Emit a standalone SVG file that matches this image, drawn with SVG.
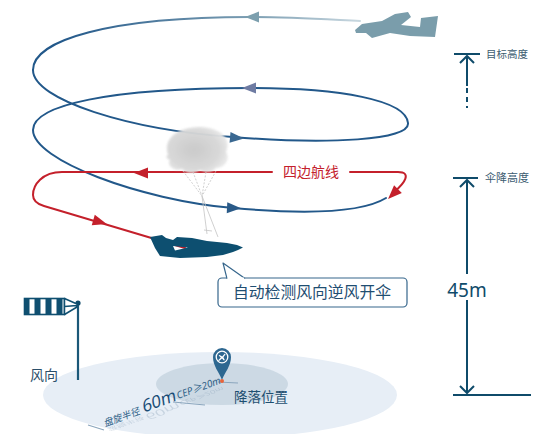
<svg xmlns="http://www.w3.org/2000/svg" width="547" height="434" viewBox="0 0 547 434">
  <defs>
    <style>
      .cn { font-family: "Noto Sans CJK SC", "Noto Sans", sans-serif; }
      .lat { font-family: "Noto Sans", "Noto Sans CJK SC", sans-serif; }
      .track { fill: none; stroke: #22588a; stroke-width: 2; stroke-linecap: round; }
      .redtrack { fill: none; stroke: #c4202b; stroke-width: 2; stroke-linecap: round; stroke-linejoin: round; }
      .dim { fill: none; stroke: #0f4b6a; stroke-width: 2; }
      .rig { fill: none; stroke: #c4c4c4; stroke-width: 0.8; }
      .uline { fill: none; stroke: #8ba6bd; stroke-width: 1.1; }
    </style>
    <linearGradient id="fadeTop" gradientUnits="userSpaceOnUse" x1="360" y1="0" x2="60" y2="0">
      <stop offset="0" stop-color="#c9d8e0"/>
      <stop offset="0.35" stop-color="#7d9fb3"/>
      <stop offset="1" stop-color="#22588a"/>
    </linearGradient>
    <radialGradient id="canopy" cx="0.45" cy="0.5" r="0.6">
      <stop offset="0" stop-color="#c9c9c9"/>
      <stop offset="0.7" stop-color="#d8d8d8"/>
      <stop offset="1" stop-color="#eaeaea"/>
    </radialGradient>
    <filter id="soft" x="-20%" y="-20%" width="140%" height="140%">
      <feGaussianBlur stdDeviation="0.9"/>
    </filter>
    <path id="ah" d="M7,0 L-7,-5.5 L-7,5.5 Z"/>
  </defs>

  <!-- ground disc and landing zone -->
  <g id="ground">
    <ellipse cx="220" cy="395" rx="177" ry="43" fill="#e7eef6"/>
    <ellipse cx="222" cy="384" rx="66" ry="21" fill="#ccd9e4"/>
  </g>

  <!-- circling radius label, drawn along a slanted baseline -->
  <g id="radius-label">
    <path class="uline" d="M88,425 L104,430 M173,402 L205,405 M218,382 L238,383"/>
    <g transform="translate(104,427) rotate(-20)">
      <g transform="scale(1,-0.55) translate(0,-4)" opacity="0.3" fill="#7f98b0">
        <text class="cn" x="2" y="0" font-size="9.5" transform="skewX(-12)">盘旋半径</text>
        <text class="lat" x="42" y="0" font-size="17" transform="skewX(-12)">60m</text>
        <text class="lat" x="79" y="0" font-size="10" font-style="italic">CEP≥20m</text>
      </g>
      <text class="cn" x="1" y="0" font-size="9.5" fill="#2e5f86" transform="skewX(-12)">盘旋半径</text>
      <text class="lat" x="42" y="0" font-size="17" fill="#1a4d77" transform="skewX(-12)">60m</text>
      <text class="lat" x="79" y="-1" font-size="10" font-style="italic" fill="#2e5f86">CEP≥20m</text>
    </g>
  </g>

  <!-- landing position marker -->
  <g id="landing-pin">
    <path d="M222,380 C219,372 213,366 213,357 A9,9 0 1 1 231,357 C231,366 225,372 222,380 Z" fill="#2d6790"/>
    <circle cx="222" cy="357" r="5.8" fill="none" stroke="#ffffff" stroke-width="1.3"/>
    <!-- small aircraft glyph inside the pin -->
    <path d="M218,360.5 L220.8,357.6 L218.6,355.6 L219.6,355 L222.2,356.4 L224.4,354 C225,353.4 225.8,353.8 225.4,354.6 L223.4,357.2 L224.8,360 L223.9,360.6 L222,358.6 L219,361 Z" fill="#ffffff"/>
    <circle cx="222" cy="381" r="2" fill="#e8643a"/>
    <text class="cn" x="234" y="402" font-size="13.5" fill="#1d4e70">降落位置</text>
  </g>

  <!-- windsock -->
  <g id="windsock">
    <line x1="78" y1="303" x2="78" y2="380" stroke="#1b5878" stroke-width="2.2"/>
    <circle cx="78" cy="303" r="2.6" fill="#0f4b6a"/>
    <rect x="24.5" y="298.5" width="40" height="16" fill="#ffffff" stroke="#0f4f70" stroke-width="1.6"/>
    <rect x="24.5" y="298.5" width="5" height="16" fill="#0f4f70"/>
    <rect x="34.5" y="298.5" width="6" height="16" fill="#0f4f70"/>
    <rect x="45.5" y="298.5" width="6" height="16" fill="#0f4f70"/>
    <rect x="56.5" y="298.5" width="6" height="16" fill="#0f4f70"/>
    <path d="M64.5,298.5 L77,304 L77,307 L64.5,314.5 Z M64.5,306.5 L77,305.5" fill="#ffffff" stroke="#0f4f70" stroke-width="1.5" stroke-linejoin="round"/>
    <text class="cn" x="30" y="380" font-size="14" fill="#2b4f6a">风向</text>
  </g>

  <!-- flight track connectors -->
  <g id="connectors">
    <path d="M360,21 C320,19 290,17 250,17 C110,17 33,40 33,70" stroke="url(#fadeTop)" fill="none" stroke-width="2" stroke-linecap="round"/>
    <path class="track" d="M33,70 C33,100 130,130 233,137 C330,145 410,140 408,123 C406,100 340,88 250,88 C110,88 33,105 33,130 C33,160 140,200 233,208 C300,214 360,214 386,198"/>
    <path class="redtrack" d="M394,192 C405,183 412,172 398,172 L350,172"/>
    <path class="redtrack" d="M272,172 L62,172 C42,172 33,185 33,195 C33,201 37,204 44,206 L185,248"/>
    <use href="#ah" transform="translate(252,17) rotate(180)" fill="#7c9fae"/>
    <use href="#ah" transform="translate(237,138) rotate(5)" fill="#3a6891"/>
    <use href="#ah" transform="translate(249,88) rotate(180)" fill="#6e7ba2"/>
    <use href="#ah" transform="translate(234,208) rotate(3)" fill="#2a5a88"/>
    <use href="#ah" transform="translate(141,173) rotate(180)" fill="#c4202b"/>
    <use href="#ah" transform="translate(100,222) rotate(16)" fill="#c4202b"/>
    <use href="#ah" transform="translate(393,194) rotate(135)" fill="#c4202b"/>
  </g>

  <!-- circuit label on the red track -->
  <g id="circuit-label">
    <text class="cn" x="311" y="177" font-size="14" fill="#c4202b" text-anchor="middle">四边航线</text>
  </g>

  <!-- parachute canopy and rigging -->
  <g id="parachute">
    <path class="rig" d="M183,171 L202,196 M193,172 L202,196 M206,172 L202,196 M216,171 L202,196" stroke-dasharray="2,1.5"/>
    <path class="rig" d="M202,196 L207,234 M202,196 L218,237 M204,230 L212,231" stroke="#bdbdbd" stroke-width="1"/>
    <path d="M168,155 C163,140 175,128 198,127 C220,127 232,138 226,152 C231,160 224,168 216,168 C213,173 205,173 200,170 C195,174 186,174 182,169 C175,172 166,166 170,160 C165,158 166,156 168,155 Z" fill="url(#canopy)" filter="url(#soft)" opacity="0.96"/>
  </g>

  <!-- aircraft at target altitude -->
  <g id="plane-top">
    <path d="M355,30 L362,24 L382,21 L395,14 L408,12 L411,17 L401,25 L420,27 L421,18 L438,16 L435,37 L410,36 L390,33 L372,38 L366,33 L356,33 Z" fill="#7a9dab"/>
  </g>

  <!-- aircraft releasing the parachute -->
  <g id="plane-low">
    <path d="M150,237 L162,235 L166,238 L173,240 L177,237 L192,238 L207,241 L227,243 L237,245 L243,247.5 L238,250 L233,252 L223,255 L207,257 L180,258 L160,256 L155,248 Z M173,246 L188,247.5 L175,250.5 Z" fill="#0d4f70" fill-rule="evenodd"/>
  </g>

  <!-- callout -->
  <g id="callout">
    <rect x="218" y="278" width="189" height="29" rx="4" fill="#ffffff" stroke="#36668c" stroke-width="1.2"/>
    <path d="M227,278.6 L223,263 L245,278.6" fill="#ffffff" stroke="#36668c" stroke-width="1.2" stroke-linejoin="round"/>
    <rect x="227.6" y="277.5" width="16.6" height="2" fill="#ffffff"/>
    <text class="cn" x="312" y="298" font-size="15.8" fill="#1f4e72" text-anchor="middle">自动检测风向逆风开伞</text>
  </g>

  <!-- target altitude marker -->
  <g id="target-altitude">
    <line class="dim" x1="454" y1="54" x2="480" y2="54"/>
    <polyline class="dim" points="460,63 467,56 474,63" stroke-width="2.4"/>
    <line class="dim" x1="467" y1="56" x2="467" y2="86" stroke-width="1.6"/>
    <line class="dim" x1="467" y1="88" x2="467" y2="108" stroke-width="1.6" stroke-dasharray="5,4"/>
    <text class="cn" x="486" y="58" font-size="10.5" fill="#3b5b70">目标高度</text>
  </g>

  <!-- deployment altitude marker -->
  <g id="deploy-altitude">
    <line class="dim" x1="453" y1="178" x2="478" y2="178"/>
    <polyline class="dim" points="460,187 467,180 474,187" stroke-width="2.4"/>
    <line class="dim" x1="467" y1="180" x2="467" y2="274" stroke-width="1.6"/>
    <text class="lat" x="467" y="297" font-size="19" fill="#0f4b6a" text-anchor="middle">45m</text>
    <line class="dim" x1="467" y1="300" x2="467" y2="393" stroke-width="1.6"/>
    <polyline class="dim" points="460,386 467,393 474,386" stroke-width="2.4"/>
    <line class="dim" x1="453" y1="395" x2="531" y2="395"/>
    <text class="cn" x="485" y="182" font-size="11" fill="#3b5b70">伞降高度</text>
  </g>
</svg>
